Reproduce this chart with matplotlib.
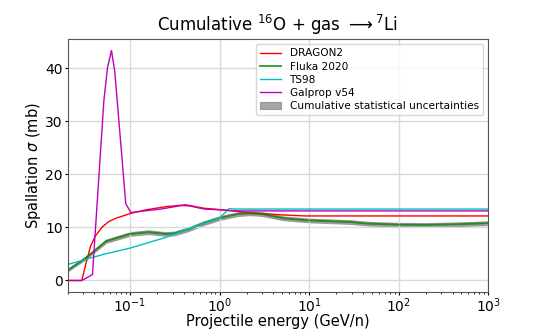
import numpy as np
import matplotlib
matplotlib.use("Agg")
import matplotlib.pyplot as plt

# values
dragon_e = [0.02, 0.0289, 0.0326, 0.0363, 0.041, 0.049, 0.058, 0.069, 0.1, 0.15,
            0.25, 0.42, 0.67, 1.0, 1.4, 2.3, 5.0, 9.0, 1000]
dragon_xs = [0, 0, 3.6, 6.5, 8.4, 10.1, 11.1, 11.7, 12.6, 13.3,
             13.9, 14.25, 13.6, 13.35, 13.1, 12.7, 12.35, 12.15, 12.15]

fluka_e = [0.02, 0.032, 0.054, 0.1, 0.16, 0.25, 0.31, 0.44, 0.67, 1.0, 1.6, 2.2,
           3.0, 5.2, 10, 29, 45, 100, 200, 500, 1000]
fluka_xs = [1.9, 4.25, 7.4, 8.75, 9.1, 8.75, 8.85, 9.6, 10.8, 11.75, 12.5, 12.65,
            12.5, 11.7, 11.3, 11.0, 10.7, 10.5, 10.45, 10.6, 10.8]
fluka_err = [0.2, 0.25, 0.3, 0.35, 0.35, 0.35, 0.35, 0.35, 0.35, 0.35, 0.35, 0.35,
             0.35, 0.35, 0.35, 0.35, 0.35, 0.35, 0.35, 0.35, 0.35]

ts98_e = [0.02, 0.028, 0.05, 0.1, 0.25, 0.5, 1.0, 1.28, 1.5, 1000]
ts98_xs = [3.0, 3.7, 4.9, 6.1, 8.1, 10.0, 11.75, 13.55, 13.45, 13.45]

galprop_e = [0.02, 0.0289, 0.038, 0.051, 0.056, 0.062, 0.0675, 0.0895, 0.102,
             0.221, 0.37, 0.457, 0.67, 1.0, 1.5, 1000]
galprop_xs = [0, 0, 1.1, 33.9, 40.1, 43.3, 39.3, 14.45, 12.8,
              13.45, 14.1, 14.05, 13.45, 13.3, 13.1, 13.1]

fig = plt.figure(figsize=(5.4, 3.29), dpi=100)
ax = fig.add_axes([0.125, 0.1125, 0.779, 0.769])

lo = np.array(fluka_xs) - np.array(fluka_err)
hi = np.array(fluka_xs) + np.array(fluka_err)
ax.fill_between(fluka_e, lo, hi, color="gray", alpha=0.7, lw=0.8,
                label="Cumulative statistical uncertainties")
ax.plot(dragon_e, dragon_xs, color="r", lw=1, label="DRAGON2")
ax.plot(fluka_e, fluka_xs, color="g", lw=1.4, alpha=0.75, label="Fluka 2020")
ax.plot(ts98_e, ts98_xs, color="c", lw=1, label="TS98")
ax.plot(galprop_e, galprop_xs, color="m", lw=1, label="Galprop v54")

ax.set_xscale("log")
ax.set_xlim(0.02, 1000)
ax.set_yticks([0, 10, 20, 30, 40])
ax.grid(True, color="#d9d9d9", lw=1)
ax.tick_params(labelsize=10, length=2.5, pad=1)
ax.tick_params(which="minor", length=1.6)
ax.set_xlabel("Projectile energy (GeV/n)", fontsize=10.5, va="center")
ax.xaxis.set_label_coords(0.5, -0.118)
ax.set_ylabel(r"Spallation $\sigma$ (mb)", fontsize=10.5, va="center")
ax.yaxis.set_label_coords(-0.08, 0.5)
ax.set_title(r"Cumulative $^{16}$O + gas $\longrightarrow ^{7}$Li", fontsize=12)
for s in ax.spines.values():
    s.set_color("#555555")

handles, labels = ax.get_legend_handles_labels()
order = [1, 2, 3, 4, 0]
ax.legend([handles[i] for i in order], [labels[i] for i in order],
          loc="upper right", fontsize=7.6, labelspacing=0.3)

fig.savefig("out.png", dpi=100)
